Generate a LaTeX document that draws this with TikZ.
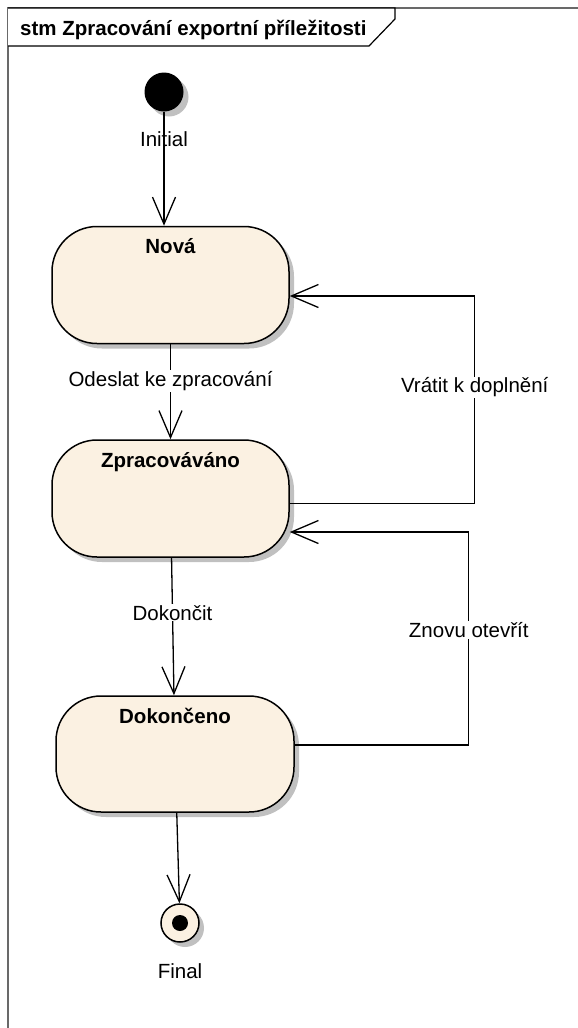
\documentclass[tikz,border=0pt]{standalone}
\usepackage{fontspec}
\setmainfont{Liberation Sans}
\usetikzlibrary{arrows.meta,shadows,positioning,calc}
\definecolor{statefill}{RGB}{251,241,226}
\definecolor{stateshadow}{RGB}{192,192,192}
\definecolor{framegray}{RGB}{105,105,105}

\begin{document}
\fontsize{20.5}{24}\selectfont
\begin{tikzpicture}[x=1pt, y=-1pt,
    softshadow/.style={drop shadow={shadow xshift=5pt, shadow yshift=-5pt,
                       fill=stateshadow, opacity=1}},
    state/.style={draw, line width=1.5pt, fill=statefill, rounded corners=45pt,
                  minimum width=237pt, minimum height=117pt, softshadow},
    initstate/.style={circle, fill=black, minimum size=39pt, inner sep=0pt,
                      softshadow},
    finalstate/.style={circle, draw, line width=1.5pt, fill=statefill,
                       minimum size=38pt, inner sep=0pt, softshadow,
                       path picture={\fill[black] (path picture bounding box.center) circle (8pt);}},
    trans/.style={line width=1.3pt, -{Straight Barb[length=27pt,width=23pt]}},
    lbl/.style={fill=white, inner sep=1pt},
]
\useasboundingbox (0,0) rectangle (578,1028);

% frame with its name tab
\draw[framegray, line width=1.5pt] (578,8) -- (8,8) -- (8,1028);
\draw[line width=1.2pt, fill=white]
    (8,8) -- (395,8) -- (395,19) -- (369,46) -- (8,46);
\node[anchor=base west, inner sep=0pt, font=\bfseries] (title)
    at (20,35) {stm Zpracování exportní příležitosti};

% states
\node[initstate, label={[label distance=13pt]below:Initial}] (init) at (164,92) {};
\node[state, label={[anchor=base, yshift=-28pt, font=\bfseries]north:Nová}]
    (nova) at (170.5,285) {};
\node[state, label={[anchor=base, yshift=-28pt, font=\bfseries]north:Zpracováváno}]
    (zprac) at (170.5,498.5) {};
\node[state, minimum width=238pt, minimum height=116pt,
      label={[anchor=base, yshift=-28pt, font=\bfseries]north:Dokončeno}]
    (dok) at (175,754) {};
\node[finalstate, label={[label distance=14pt]below:Final}] (final) at (180,923) {};

% transitions
\draw[trans] (init) -- (init |- nova.north);
\draw[trans] (nova) -- node[lbl, pos=0.385] (odeslat) {Odeslat ke zpracování} (zprac);
\draw[trans] (zprac) -- node[lbl, pos=0.4] (dokoncit) {Dokončit} (dok);
\draw[trans] (dok) -- (final);

\draw[trans] ([yshift=-5pt]zprac.east) -- ++(185,0)
    |- node[lbl, pos=0.28] (vratit) {Vrátit k doplnění} ([yshift=-11pt]nova.east);
\draw[trans] ([yshift=9pt]dok.east) -- ++(174,0)
    |- node[lbl, pos=0.27] (znovu) {Znovu otevřít} ([yshift=-33.5pt]zprac.east);
\end{tikzpicture}
\end{document}
